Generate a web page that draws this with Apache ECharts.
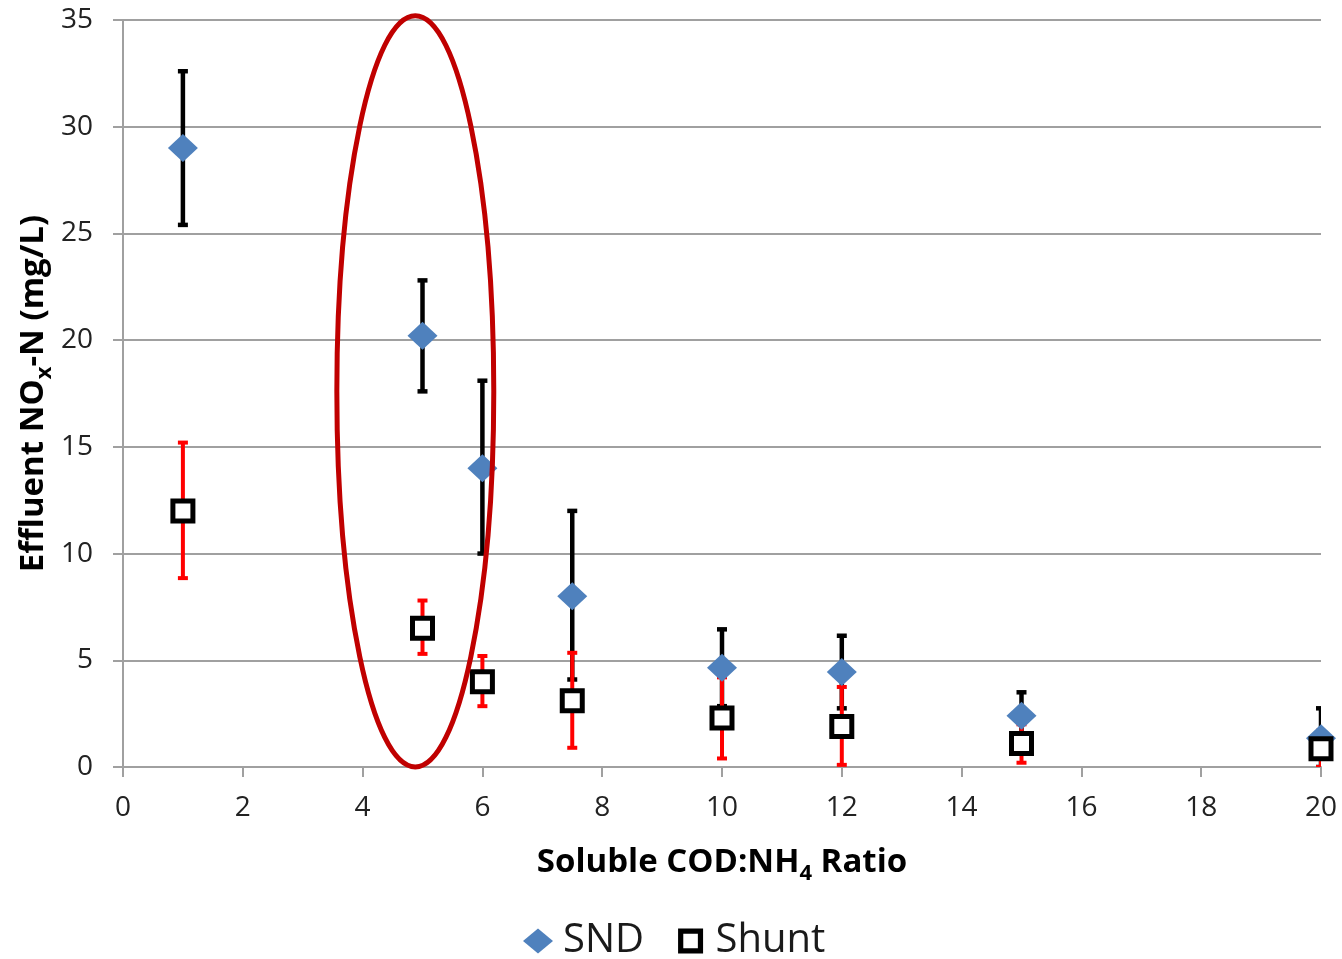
<!DOCTYPE html>
<html>
<head>
<meta charset="utf-8">
<script src="https://cdn.jsdelivr.net/npm/echarts@6/dist/echarts.min.js"></script>
<style>
  html, body { margin: 0; padding: 0; background: #fff; }
  #chart { width: 1342px; height: 959px; }
</style>
</head>
<body>
<div id="chart"></div>
<script>
// Soluble COD:NH4 ratios tested
const ratios = [1, 5, 6, 7.5, 10, 12, 15, 20];

// SND effluent NOx-N (mg/L): mean with lower / upper error limits
const sndMean = [29.0, 20.2, 14.0, 8.0, 4.65, 4.45, 2.4, 1.35];
const sndLow  = [25.4, 17.6, 10.0, 4.1, 2.85, 2.75, 1.3, 0.0];
const sndHigh = [32.6, 22.8, 18.1, 12.0, 6.45, 6.15, 3.5, 2.75];

// Shunt effluent NOx-N (mg/L)
const shuntMean = [12.0, 6.5, 4.0, 3.1, 2.3, 1.9, 1.1, 0.85];
const shuntLow  = [8.85, 5.3, 2.85, 0.9, 0.4, 0.1, 0.2, 0.0];
const shuntHigh = [15.2, 7.8, 5.2, 5.35, 4.2, 3.75, 2.0, 1.7];

// Highlighted region around ratio 5: [centre x, centre y, radius x, radius y]
const highlight = [[4.88, 17.6, 1.31, 17.6]];

const FONT = 'Open Sans';

const pts = (xs, ys) => xs.map((x, i) => [x, ys[i]]);
const bars = (xs, lo, hi) => xs.map((x, i) => [x, lo[i], hi[i]]);

// Draws a vertical error bar with caps from [x, low, high]
function errorBars(color, width) {
  return function (params, api) {
    const x = api.value(0);
    const top = api.coord([x, api.value(2)]);
    const bot = api.coord([x, api.value(1)]);
    const cap = 5;
    const st = { stroke: color, lineWidth: width };
    return {
      type: 'group',
      children: [
        { type: 'line', shape: { x1: top[0], y1: top[1], x2: bot[0], y2: bot[1] }, style: st },
        { type: 'line', shape: { x1: top[0] - cap, y1: top[1], x2: top[0] + cap, y2: top[1] }, style: st },
        { type: 'line', shape: { x1: bot[0] - cap, y1: bot[1], x2: bot[0] + cap, y2: bot[1] }, style: st }
      ]
    };
  };
}

// Axis title styles: body text sits at the top of the line, subscripts at the bottom
const titleRich = {
  t: { fontSize: 33, fontWeight: 'bold', color: '#000', fontFamily: FONT, height: 40, lineHeight: 43, verticalAlign: 'top' },
  sub: { fontSize: 22, fontWeight: 'bold', color: '#000', fontFamily: FONT, height: 24, lineHeight: 43, verticalAlign: 'bottom' }
};

// Hollow square legend icon (outer square with a square hole)
const hollowSquare = 'path://M0,0h24v24h-24zM5,5v14h14v-14z';

const chart = echarts.init(document.getElementById('chart'), null, { renderer: 'canvas' });

chart.setOption({
  animation: false,
  textStyle: { fontFamily: FONT },
  grid: { left: 123, right: 21, top: 20, bottom: 192, containLabel: false },
  legend: {
    left: 518,
    top: 916,
    itemGap: 34,
    itemWidth: 30,
    itemHeight: 25,
    textStyle: { fontSize: 40, color: '#1a1a1a', fontFamily: FONT, padding: [0, 0, 0, 5] },
    data: [
      { name: 'SND', icon: 'diamond' },
      { name: 'Shunt', icon: hollowSquare, itemStyle: { color: '#000000', borderWidth: 0 } }
    ]
  },
  xAxis: {
    type: 'value',
    min: 0, max: 20, interval: 2,
    name: '{t|Soluble COD:NH}{sub|4}{t| Ratio}',
    nameLocation: 'middle',
    nameGap: 76,
    nameMoveOverlap: false,
    nameTextStyle: { fontSize: 33, fontWeight: 'bold', color: '#000', fontFamily: FONT, rich: titleRich },
    axisLine: { lineStyle: { color: '#a0a0a0', width: 2 } },
    axisTick: { show: true, length: 10, lineStyle: { color: '#a0a0a0', width: 2 } },
    axisLabel: { fontSize: 28, color: '#222', margin: 27 },
    splitLine: { show: false }
  },
  yAxis: {
    type: 'value',
    min: 0, max: 35, interval: 5,
    name: '{t|Effluent NO}{sub|x}{t|-N (mg/L)}',
    nameLocation: 'middle',
    nameRotate: 90,
    nameGap: 66,
    nameMoveOverlap: false,
    nameTextStyle: { fontSize: 33, fontWeight: 'bold', color: '#000', fontFamily: FONT, rich: titleRich },
    axisLine: { show: true, lineStyle: { color: '#a0a0a0', width: 2 } },
    axisTick: { show: true, length: 10, lineStyle: { color: '#a0a0a0', width: 2 } },
    axisLabel: { fontSize: 28, color: '#222', margin: 30 },
    splitLine: { show: true, lineStyle: { color: '#a0a0a0', width: 2 } }
  },
  series: [
    {
      name: 'SND error', type: 'custom', z: 2, clip: true,
      renderItem: errorBars('#000000', 4.5),
      data: bars(ratios, sndLow, sndHigh)
    },
    {
      name: 'Shunt error', type: 'custom', z: 3, clip: true,
      renderItem: errorBars('#ff0000', 4),
      data: bars(ratios, shuntLow, shuntHigh)
    },
    {
      name: 'SND', type: 'scatter', z: 4,
      symbol: 'diamond', symbolSize: [30, 28],
      itemStyle: { color: '#4f81bd', opacity: 1 },
      data: pts(ratios, sndMean)
    },
    {
      name: 'Shunt', type: 'scatter', z: 5,
      symbol: 'rect', symbolSize: 20,
      itemStyle: { color: '#ffffff', borderColor: '#000000', borderWidth: 5, opacity: 1 },
      data: pts(ratios, shuntMean)
    },
    {
      name: 'highlight', type: 'custom', z: 6, clip: false, silent: true,
      renderItem: function (params, api) {
        const c = api.coord([api.value(0), api.value(1)]);
        const s = api.size([api.value(2), api.value(3)]);
        return {
          type: 'ellipse',
          shape: { cx: c[0], cy: c[1], rx: s[0], ry: s[1] },
          style: { fill: null, stroke: '#c00000', lineWidth: 5 }
        };
      },
      data: highlight
    }
  ]
});
</script>
</body>
</html>
